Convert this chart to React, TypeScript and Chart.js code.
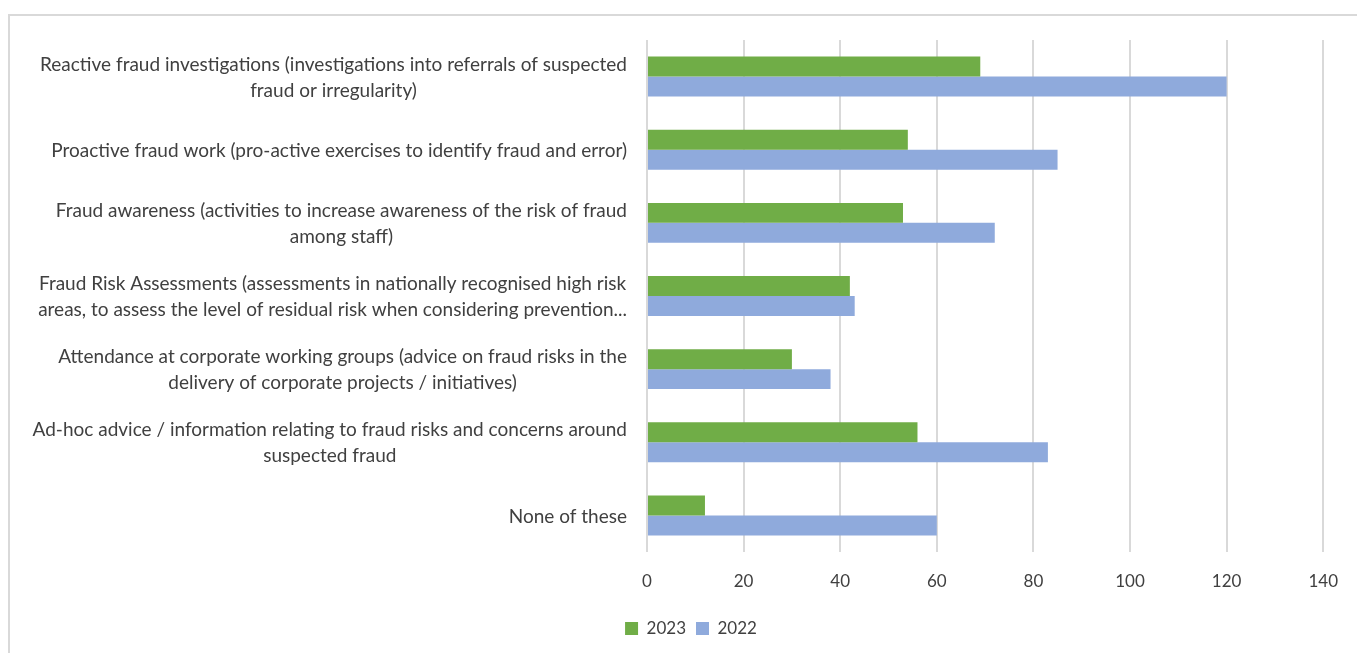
import React, { useEffect, useRef } from "react";
import { Chart, registerables } from "chart.js";

Chart.register(...registerables);

const categories: string[][] = [
  ["Reactive fraud investigations (investigations into referrals of suspected", "fraud or irregularity)"],
  ["Proactive fraud work (pro-active exercises to identify fraud and error)"],
  ["Fraud awareness (activities to increase awareness of the risk of fraud", "among staff)"],
  ["Fraud Risk Assessments (assessments in nationally recognised high risk", "areas, to assess the level of residual risk when considering prevention..."],
  ["Attendance at corporate working groups (advice on fraud risks in the", "delivery of corporate projects / initiatives)"],
  ["Ad-hoc advice / information relating to fraud risks and concerns around", "suspected fraud"],
  ["None of these"],
];

const seriesNames = ["2023", "2022"];
const values2023 = [69, 54, 53, 42, 30, 56, 12];
const values2022 = [120, 85, 72, 43, 38, 83, 60];
const xTickValues = [0, 20, 40, 60, 80, 100, 120, 140];

const FONT = "Lato";
const LABEL_SIZE = 19;
const TICK_SIZE = 17;
const LINE_H = 26;
const TEXT_COLOR = "#404040";
const GRID_COLOR = "#d9d9d9";

const wrappedLabels = {
  id: "wrappedLabels",
  afterDraw(chart: any) {
    const ys = chart.scales.y;
    const ctx = chart.ctx;
    ctx.save();
    ctx.font = `${LABEL_SIZE}px ${FONT}`;
    ctx.fillStyle = TEXT_COLOR;
    ctx.textBaseline = "middle";
    ctx.textAlign = "center";
    const right = chart.chartArea.left - 20;
    categories.forEach((lines, i) => {
      const yc = ys.getPixelForValue(i);
      const w = Math.max(...lines.map((l) => ctx.measureText(l).width));
      const cx = right - w / 2;
      lines.forEach((l, j) => {
        ctx.fillText(l, cx, yc + 1 + (j - (lines.length - 1) / 2) * LINE_H);
      });
    });
    ctx.restore();
  },
};

export default function App() {
  const ref = useRef<HTMLCanvasElement | null>(null);
  useEffect(() => {
    if (!ref.current) return;
    const chart = new Chart(ref.current, {
      type: "bar",
      data: {
        labels: categories.map((c) => c.join(" ")),
        datasets: [
          {
            label: seriesNames[0],
            data: values2023,
            backgroundColor: "#70ad47",
            barPercentage: 1,
            categoryPercentage: 0.546,
          },
          {
            label: seriesNames[1],
            data: values2022,
            backgroundColor: "#8faadc",
            barPercentage: 1,
            categoryPercentage: 0.546,
          },
        ],
      },
      options: {
        indexAxis: "y",
        responsive: false,
        animation: false,
        layout: { padding: { top: 40, right: 29, left: 54, bottom: 6 } },
        scales: {
          x: {
            min: 0,
            max: 140,
            afterBuildTicks: (scale: any) => {
              scale.ticks = xTickValues.map((v) => ({ value: v }));
            },
            afterFit: (scale: any) => {
              scale.height = 58;
            },
            grid: { color: GRID_COLOR, lineWidth: 2, drawTicks: false },
            border: { display: false },
            ticks: {
              padding: 19,
              color: TEXT_COLOR,
              font: { family: FONT, size: TICK_SIZE },
            },
          },
          y: {
            grid: { display: false, drawTicks: false },
            border: { display: false },
            ticks: { display: false },
            afterFit: (scale: any) => {
              scale.width = 593;
            },
          },
        },
        plugins: {
          legend: {
            position: "bottom",
            labels: {
              boxWidth: 13,
              boxHeight: 13,
              padding: 10,
              color: TEXT_COLOR,
              font: { family: FONT, size: TICK_SIZE },
            },
          },
          tooltip: { enabled: false },
        },
      },
      plugins: [wrappedLabels],
    } as any);
    return () => chart.destroy();
  }, []);

  return (
    <div>
      <div
        style={{
          position: "fixed",
          left: 8,
          top: 14,
          width: 1349,
          height: 639,
          borderTop: `2px solid ${GRID_COLOR}`,
          borderLeft: `2px solid ${GRID_COLOR}`,
          boxSizing: "border-box",
        }}
      />
      <canvas
        ref={ref}
        width={1357}
        height={653}
        style={{ position: "fixed", left: 0, top: 0, width: 1357, height: 653 }}
      />
    </div>
  );
}
